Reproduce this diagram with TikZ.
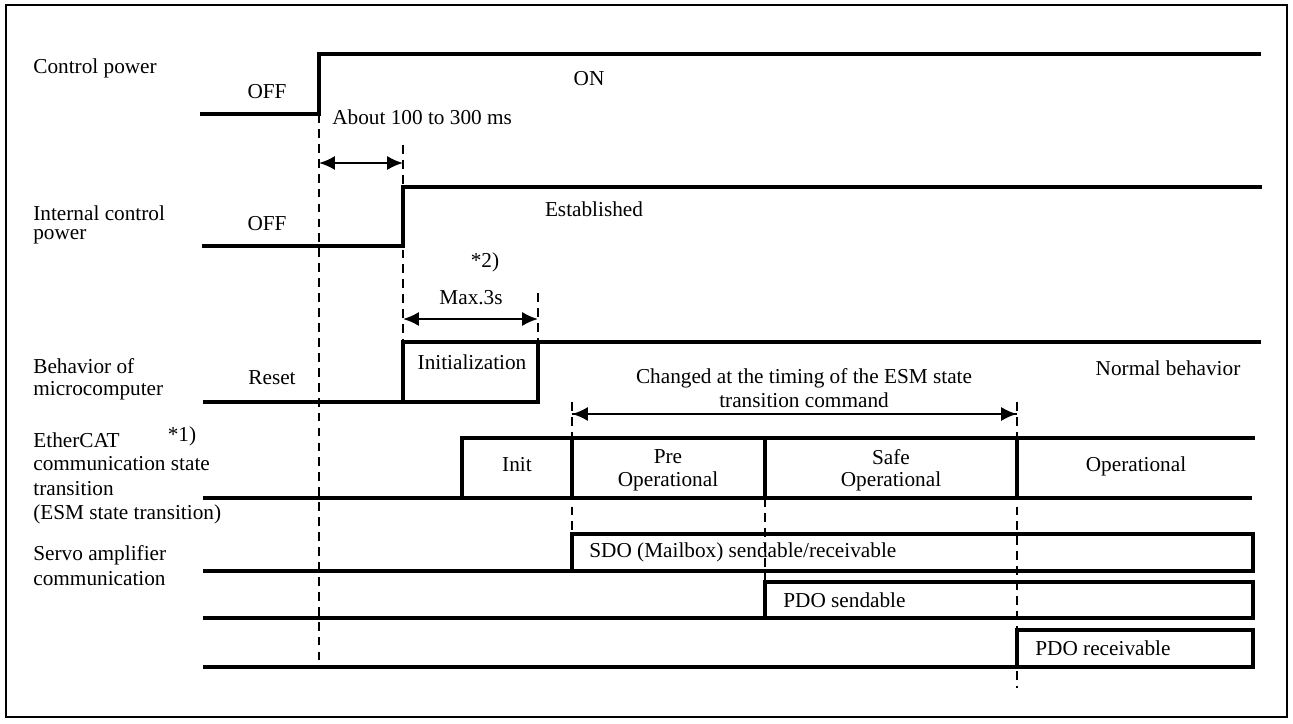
\documentclass[tikz,border=0pt]{standalone}
\usepackage{fontspec}
\setmainfont{Liberation Serif}
\usetikzlibrary{arrows.meta}
\begin{document}
\begin{tikzpicture}[x=0.02cm,y=-0.02cm,
  sig/.style={line width=1.8pt, line join=miter},
  guide/.style={line width=0.8pt, dash pattern=on 5pt off 3.5pt},
  dim/.style={line width=1.3pt, {Latex[length=9pt,width=8pt]}-{Latex[length=9pt,width=8pt]}},
  dimr/.style={line width=1.3pt, -{Latex[length=9pt,width=8pt]}},
  lbl/.style={inner sep=0pt, font=\fontsize{12.1pt}{14pt}\selectfont},
  lft/.style={lbl, anchor=west}]
\useasboundingbox (0,0) rectangle (1293,723);
\draw[line width=1.2pt] (6,5) rectangle (1287,717);

% key coordinates
\coordinate (a1) at (319,163); \coordinate (a2) at (403,163);
\coordinate (m1) at (403,319); \coordinate (m2) at (538,319);
\coordinate (c1) at (572,414); \coordinate (c2) at (1017,414);

% guides (dashed)
\draw[guide] (319,114) -- (319,667);
\draw[guide] (403,145) -- (403,342);
\draw[guide] (538,293) -- (538,342);
\draw[guide] (572,402) -- (572,534);
\draw[guide] (765,498) -- (765,582);
\draw[guide] (1017,402) -- (1017,688);

% Control power
\draw[sig] (200,114) -- (319,114) -- (319,54) -- (1261,54);
% Internal control power
\draw[sig] (202,246) -- (403,246) -- (403,187) -- (1262,187);
% Behavior of microcomputer
\draw[sig] (203,402) -- (538,402) -- (538,342);
\draw[sig] (403,402) -- (403,342) -- (1261,342);
% EtherCAT
\draw[sig] (203,498) -- (1252,498);
\draw[sig] (462,498) -- (462,438) -- (1255,438);
\draw[sig] (572,438) -- (572,498);
\draw[sig] (765,438) -- (765,498);
\draw[sig] (1017,438) -- (1017,498);
% SDO
\draw[sig] (203,571) -- (1253,571) -- (1253,534) -- (572,534) -- (572,571);
% PDO sendable
\draw[sig] (203,618) -- (1253,618) -- (1253,582) -- (765,582) -- (765,618);
% PDO receivable
\draw[sig] (203,667) -- (1253,667) -- (1253,630) -- (1017,630) -- (1017,667);

% dimension arrows
\draw[dim] (a1) -- (a2);
\draw[dim] (m1) -- (m2);
\draw[dimr] (c1) -- (c2);
\draw[dimr] (c2) -- (c1);

% left labels
\node[lft] (l1) at (33,68) {Control power};
\node[lft] (l2a) at (33,213) {Internal control};
\node[lft] (l2b) at (33,237) {power};
\node[lft] (l3a) at (33,366) {Behavior of};
\node[lft] (l3b) at (33,391) {microcomputer};
\node[lft] (l4a) at (33,440) {EtherCAT};
\node[lft] (l4b) at (33,464) {communication state};
\node[lft] (l4c) at (33,489) {transition};
\node[lft] (l4d) at (33,514) {(ESM state transition)};
\node[lft] (l5a) at (33,555) {Servo amplifier};
\node[lft] (l5b) at (33,579) {communication};
\node[lbl] (s1) at (182,436) {*1)};

% signal labels
\node[lbl] (t1) at (267,92) {OFF};
\node[lbl] (t2) at (589,79) {ON};
\node[lft] (t3) at (332,117) {About 100 to 300 ms};
\node[lbl] (t4) at (267,224) {OFF};
\node[lbl] (t5) at (594,209) {Established};
\node[lbl] (s2) at (485,262) {*2)};
\node[lbl] (t6) at (471,298) {Max.3s};
\node[lbl] (t7) at (272,378) {Reset};
\node[lbl] (t8) at (472,362) {Initialization};
\node[lbl] (t9) at (1168,368) {Normal behavior};
\node[lbl] (t10) at (804,378) {Changed at the timing of the ESM state};
\node[lbl] (t11) at (804,400) {transition command};
\node[lbl] (t12) at (517,465) {Init};
\node[lbl] (t13) at (668,457) {Pre};
\node[lbl] (t14) at (668,481) {Operational};
\node[lbl] (t15) at (891,457) {Safe};
\node[lbl] (t16) at (891,481) {Operational};
\node[lbl] (t17) at (1136,466) {Operational};
\node[lft] (t18) at (589,552) {SDO (Mailbox) sendable/receivable};
\node[lft] (t19) at (783,600) {PDO sendable};
\node[lft] (t20) at (1035,648) {PDO receivable};
\end{tikzpicture}
\end{document}
